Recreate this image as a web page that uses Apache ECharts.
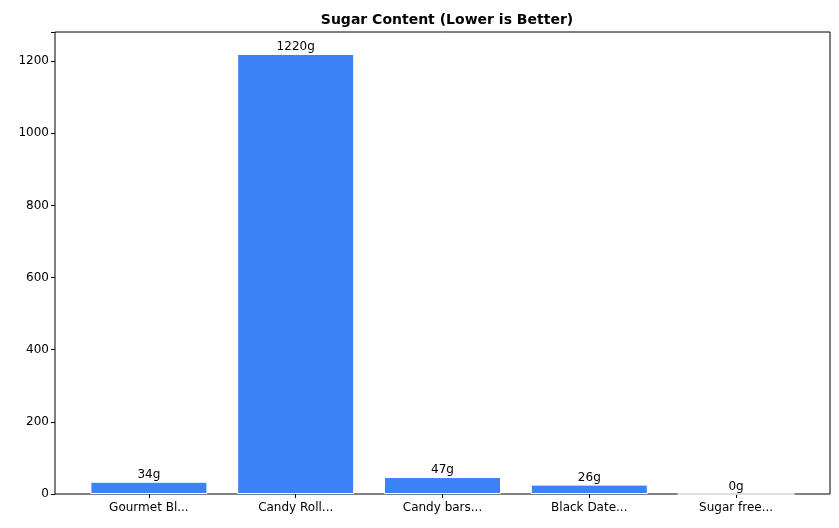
<!DOCTYPE html>
<html><head><meta charset="utf-8">
<script src="https://cdn.jsdelivr.net/npm/echarts@6/dist/echarts.min.js"></script>
<style>body{margin:0}#c{width:839px;height:528px}</style></head>
<body><div id="c"></div>
<script>
const categories = ["Gourmet Bl...", "Candy Roll...", "Candy bars...", "Black Date...", "Sugar free..."];
const sugar = [34, 1220, 47, 26, 0];
const yTicks = [0, 200, 400, 600, 800, 1000, 1200];
const yMax = 1281;
const font = "DejaVu Sans";
const chart = echarts.init(document.getElementById('c'));
chart.setOption({
  animation: false,
  textStyle: {fontFamily: font},
  title: {text: "Sugar Content (Lower is Better)", left: 442, top: 8, textAlign: 'center',
    textStyle: {fontFamily: font, fontSize: 14, fontWeight: 'bold', color: '#000'}},
  grid: [
    {left: 55, right: 9, top: 32, bottom: 34, show: true, borderColor: '#000', borderWidth: 1, backgroundColor: 'transparent'},
    {left: 75.5, right: 29.5, top: 32, bottom: 34}
  ],
  xAxis: [
    {gridIndex: 0, type: 'value', show: false, min: 0, max: 1},
    {gridIndex: 1, type: 'category', data: categories,
      axisLine: {show: false},
      axisTick: {show: true, alignWithLabel: true, length: 4, lineStyle: {color: '#000'}},
      axisLabel: {color: '#000', fontSize: 12, margin: 8, fontFamily: font}}
  ],
  yAxis: [
    {gridIndex: 0, type: 'value', min: 0, max: yMax, interval: 200,
      splitLine: {show: false}, axisLine: {show: false},
      axisTick: {show: true, length: 4, lineStyle: {color: '#000'}},
      axisLabel: {color: '#000', fontSize: 12, margin: 6, fontFamily: font,
        formatter: v => yTicks.includes(v) ? String(v) : ''}},
    {gridIndex: 1, type: 'value', min: 0, max: yMax, show: false}
  ],
  series: [{
    type: 'bar', xAxisIndex: 1, yAxisIndex: 1, data: sugar, barWidth: 117,
    itemStyle: {color: '#3b82f6', borderColor: '#ffffff', borderWidth: 1},
    label: {show: true, position: 'top', distance: 1, color: '#000', fontSize: 12, fontFamily: font,
      formatter: p => p.value + 'g'}
  }]
});
</script></body></html>
